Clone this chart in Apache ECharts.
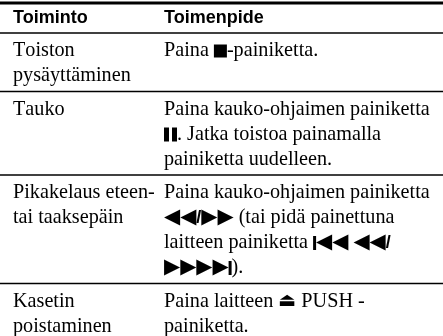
<!DOCTYPE html>
<html><head><meta charset="utf-8">
<script src="https://cdn.jsdelivr.net/npm/echarts@6/dist/echarts.min.js"></script>
<style>html,body{margin:0;padding:0;background:#fff}#c{width:443px;height:336px}</style>
</head><body><div id="c"></div>
<script>
// ---- data ----
const headers = ['Toiminto', 'Toimenpide'];
const functionLines = [
  ['Toiston', 'pysäyttäminen'],
  ['Tauko'],
  ['Pikakelaus eteen-', 'tai taaksepäin'],
  ['Kasetin', 'poistaminen']
];
const actionLines = [
  ['Paina ■-painiketta.'],
  ['Paina kauko-ohjaimen painiketta', '❚❚. Jatka toistoa painamalla', 'painiketta uudelleen.'],
  ['Paina kauko-ohjaimen painiketta', '◄◄/►► (tai pidä painettuna', 'laitteen painiketta ⏮ ◄◄/', '►►⏭).'],
  ['Paina laitteen ⏏ PUSH -', 'painiketta.']
];

// ---- drawing ----
const chart = echarts.init(document.getElementById('c'), null, {renderer: 'canvas'});
const serif = '"Liberation Serif","Times New Roman",serif';
const sans = '"Liberation Sans",Arial,sans-serif';
const FS = 20.2, LH = 25;
const colX = [13, 164];
const W = 443;

const rich = {
  h: {fontFamily: sans, fontSize: 18, fontWeight: 'bold', fill: '#000'},
  t: {fontFamily: serif, fontSize: FS, fill: '#000'},
  tri: {fontFamily: '"DejaVu Sans"', fontSize: 21, fill: '#000'},
  sl: {fontFamily: sans, fontSize: 18, fontWeight: 'bold', fill: '#000'},
  sq: {fontSize: 4, width: 13, height: 13, backgroundColor: '#000'},
  pb: {fontSize: 4, width: 5, height: 14, backgroundColor: '#000'},
  gap: {fontSize: 4, width: 3},
  bar: {fontSize: 4, width: 3, height: 14, backgroundColor: '#000'},
  ej: {fontFamily: '"DejaVu Sans"', fontSize: 19, fill: '#000'}
};

function toRich(s) {
  let out = '';
  const chars = Array.from(s);
  chars.forEach((ch, i) => {
    if (ch === '◄') out += '{tri|◀}';
    else if (ch === '►') out += '{tri|▶}';
    else if (ch === '/' && (chars[i - 1] === '◄' || chars[i + 1] === '►')) out += '{sl|/}';
    else if (ch === '■') out += '{sq| }';
    else if (ch === '❚') out += (chars[i - 1] === '❚' ? '{gap| }' : '') + '{pb| }';
    else if (ch === '⏮') out += '{bar| }{tri|◀◀}';
    else if (ch === '⏭') out += '{tri|▶▶}{bar| }';
    else if (ch === '⏏') out += '{ej|⏏}';
    else out += '{t|' + ch + '}';
  });
  return out;
}

const elements = [];
function hline(y, lw) {
  elements.push({type: 'line', shape: {x1: 0, y1: y, x2: W, y2: y}, style: {stroke: '#000', lineWidth: lw}, silent: true});
}
hline(3, 3);
headers.forEach((h, i) => {
  elements.push({type: 'text', x: colX[i], y: 18, style: {text: '{h|' + h + '}', rich: rich, textVerticalAlign: 'middle', fill: '#000'}});
});
let rowTop = 33;
hline(rowTop, 1.5);
functionLines.forEach((fl, r) => {
  const al = actionLines[r];
  const n = Math.max(fl.length, al.length);
  [fl, al].forEach((lines, c) => {
    lines.forEach((ln, i) => {
      elements.push({type: 'text', x: colX[c], y: rowTop + 18 + i * LH,
        style: {text: toRich(ln), rich: rich, textVerticalAlign: 'middle', fill: '#000'}});
    });
  });
  rowTop += 33.5 + (n - 1) * LH;
  if (r < functionLines.length - 1) hline(rowTop, 1.5);
});

chart.setOption({animation: false, backgroundColor: '#fff', graphic: {elements: elements}});
</script></body></html>
